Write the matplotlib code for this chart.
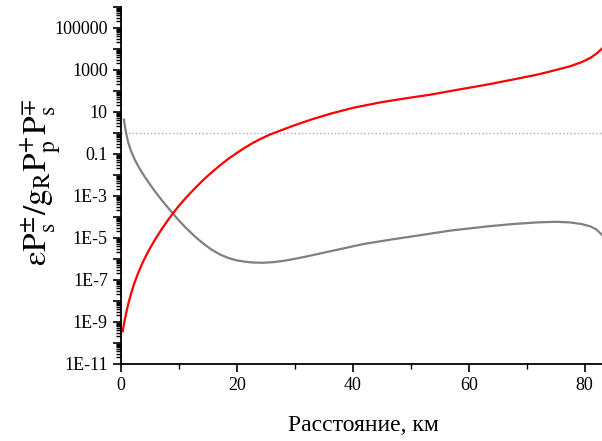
import math
import matplotlib
matplotlib.use("Agg")
import matplotlib.pyplot as plt
import numpy as np
from matplotlib.ticker import LogLocator, FixedLocator, FuncFormatter, NullFormatter

plt.rcParams["font.family"] = "Liberation Serif"
plt.rcParams["mathtext.fontset"] = "stix"

# Red curve: distance (km) and log10 of value
red_km = [0.3, 0.6, 0.92, 1.3, 1.78, 2.3, 2.9, 3.7, 4.66, 5.8, 7.0, 8.0, 8.9, 10.0, 11.3,
          12.7, 14.2, 15.6, 17.1, 18.5, 20.0, 21.4, 22.8, 24.2, 25.7, 27.5, 30.0, 33.0,
          36.1, 40.0, 44.7, 49.0, 53.4, 58.0, 63.2, 68.0, 71.8, 75.0, 77.5, 79.5, 81.0,
          82.0, 83.0]
red_log = [-9.45, -8.98, -8.55, -8.1, -7.62, -7.17, -6.72, -6.2, -5.67, -5.12, -4.6, -4.2,
           -3.86, -3.48, -3.07, -2.66, -2.25, -1.9, -1.55, -1.25, -0.96, -0.71, -0.48, -0.28,
           -0.09, 0.1, 0.36, 0.64, 0.9, 1.18, 1.44, 1.63, 1.81, 2.04, 2.29, 2.55, 2.76,
           2.98, 3.16, 3.36, 3.56, 3.75, 4.0]

# Gray curve
gray_km = [0.5, 0.8, 1.2, 1.7, 2.37, 3.2, 4.1, 5.0, 5.8, 7.0, 8.5, 9.8, 11.3, 12.8, 14.2,
           15.6, 17.1, 18.5, 20.0, 21.4, 22.8, 24.5, 26.3, 28.0, 29.5, 31.5, 33.2, 37.5,
           41.8, 46.5, 51.6, 56.8, 60.0, 63.2, 67.5, 71.8, 75.0, 77.5, 79.5, 81.0, 82.0,
           83.0]
gray_log = [0.62, 0.1, -0.42, -0.85, -1.28, -1.7, -2.1, -2.46, -2.77, -3.2, -3.7, -4.12,
            -4.56, -4.95, -5.28, -5.56, -5.8, -5.96, -6.08, -6.14, -6.18, -6.19, -6.16,
            -6.1, -6.03, -5.92, -5.82, -5.56, -5.3, -5.09, -4.88, -4.66, -4.56, -4.46,
            -4.35, -4.27, -4.24, -4.27, -4.35, -4.46, -4.6, -4.86]

ref_level = 1.0
y_labels = {-11: "1E-11", -9: "1E-9", -7: "1E-7", -5: "1E-5", -3: "1E-3",
            -1: "0.1", 1: "10", 3: "1000", 5: "100000"}

fig = plt.figure(figsize=(6.02, 4.41), dpi=100)
ax = fig.add_axes([0.201, 0.175, 0.799, 0.81])

ax.axhline(ref_level, color="#aaaaaa", ls=":", lw=1)
ax.plot(gray_km, np.power(10.0, gray_log), color="#808080", lw=1.6)
ax.plot(red_km, np.power(10.0, red_log), color="red", lw=1.6)

ax.set_yscale("log")
ax.set_ylim(1e-11, 1e6)
ax.set_xlim(0, 83)

ax.spines["top"].set_visible(False)
ax.spines["right"].set_visible(False)
ax.spines["left"].set_linewidth(1.3)
ax.spines["bottom"].set_linewidth(1.3)

ax.yaxis.set_major_locator(FixedLocator([10.0 ** e for e in range(-11, 7)]))
ax.yaxis.set_minor_locator(LogLocator(base=10, subs=range(2, 10), numticks=40))
ax.yaxis.set_major_formatter(FuncFormatter(
    lambda v, p: y_labels.get(int(round(math.log10(v))), "")))
ax.yaxis.set_minor_formatter(NullFormatter())

ax.set_xticks([0, 20, 40, 60, 80])
ax.set_xticks([10, 30, 50, 70], minor=True)

ax.tick_params(axis="both", which="major", direction="out", length=6, width=1.2, labelsize=13)
ax.tick_params(axis="both", which="minor", direction="out", length=3.5, width=1.0)

ax.set_xlabel("Расстояние, км", fontsize=17)
ax.xaxis.set_label_coords(0.505, -0.143)
ax.set_ylabel(r"$\mathrm{ε}\mathrm{P}^{\pm}_{\mathrm{s}}/\mathrm{g}_{\mathrm{R}}"
              r"\mathrm{P}^{+}_{\mathrm{p}}\mathrm{P}^{\mp}_{\mathrm{s}}$", fontsize=24)
ax.yaxis.set_label_coords(-0.12, 0.507)

plt.savefig("out.png", dpi=100)
